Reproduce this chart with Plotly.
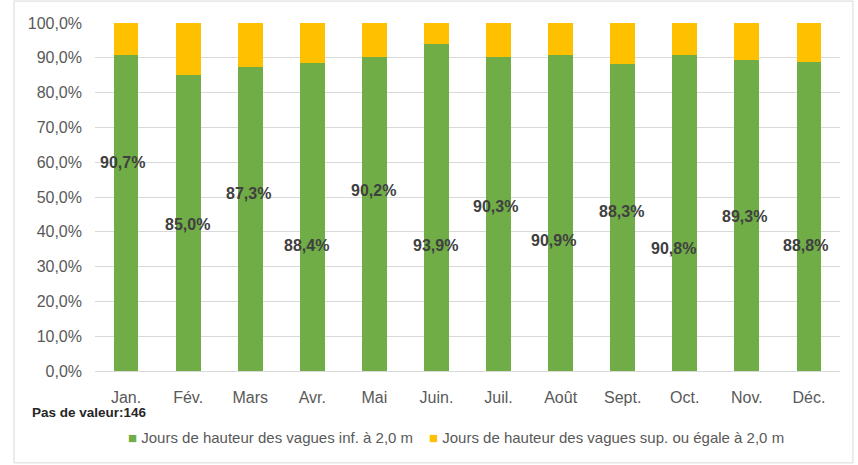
import plotly.graph_objects as go

months = ["Jan.", "Fév.", "Mars", "Avr.", "Mai", "Juin.", "Juil.", "Août", "Sept.", "Oct.", "Nov.", "Déc."]
inf_2m = [90.7, 85.0, 87.3, 88.4, 90.2, 93.9, 90.3, 90.9, 88.3, 90.8, 89.3, 88.8]
sup_2m = [round(100 - v, 1) for v in inf_2m]
y_ticks = [0, 10, 20, 30, 40, 50, 60, 70, 80, 90, 100]
y_tick_text = [f"{v:.1f}%".replace(".", ",") for v in y_ticks]
series_names = ["Jours de hauteur des vagues inf. à 2,0 m",
                "Jours de hauteur des vagues sup. ou égale à 2,0 m"]

# layout: where the data labels sit (as in the reference)
label_y = [59.8, 42.2, 50.9, 36.2, 52.0, 36.2, 47.4, 37.6, 45.7, 35.3, 44.3, 36.2]
label_dx = [-4, -1, -2, -6, -1, -1, -3, -7, -1, -11, -2, -3]

GREEN = "#70AD47"
YELLOW = "#FFC000"
FONT = "Liberation Sans, Arial, sans-serif"

fig = go.Figure()
fig.add_trace(go.Bar(x=months, y=inf_2m, name=series_names[0],
                     marker=dict(color=GREEN, line=dict(width=0)), hoverinfo="skip"))
fig.add_trace(go.Bar(x=months, y=sup_2m, name=series_names[1],
                     marker=dict(color=YELLOW, line=dict(width=0)), hoverinfo="skip"))

for m, v, ly, dx in zip(months, inf_2m, label_y, label_dx):
    fig.add_annotation(x=m, y=ly, xshift=dx, text=f"<b>{v:.1f}%</b>".replace(".", ","),
                       showarrow=False, font=dict(family=FONT, size=16, color="#404040"))

fig.add_annotation(xref="paper", yref="paper", x=-0.0866, y=-0.12, xanchor="left", yanchor="middle",
                   text="<b>Pas de valeur:146</b>", showarrow=False,
                   font=dict(family=FONT, size=13.5, color="#262626"))

# legend (drawn as text, matching the compact Excel legend)
fig.add_annotation(xref="paper", yref="paper", x=(126 - 95) / 745, y=(371 - 437) / 348,
                   xanchor="left", yanchor="middle", showarrow=False,
                   text=f"<span style='color:{GREEN}'>■</span> {series_names[0]}",
                   font=dict(family=FONT, size=15, color="#595959"))
fig.add_annotation(xref="paper", yref="paper", x=(427 - 95) / 745, y=(371 - 437) / 348,
                   xanchor="left", yanchor="middle", showarrow=False,
                   text=f"<span style='color:{YELLOW}'>■</span> {series_names[1]}",
                   font=dict(family=FONT, size=15, color="#595959"))

fig.add_shape(type="rect", xref="paper", yref="paper", x0=-0.1087, x1=1.0174, y0=-0.264, y1=1.063,
              line=dict(color="#D9D9D9", width=1), fillcolor="rgba(0,0,0,0)", layer="below")

fig.update_layout(
    width=858, height=465,
    margin=dict(l=95, r=18, t=23, b=94),
    barmode="stack", bargap=0.6,
    paper_bgcolor="white", plot_bgcolor="white",
    font=dict(family=FONT, size=16, color="#595959"),
    showlegend=False,
    xaxis=dict(showgrid=False, showline=True, linecolor="#D9D9D9", linewidth=1,
               ticks="", tickfont=dict(size=16, color="#595959"), ticklabelstandoff=12,
               fixedrange=True),
    yaxis=dict(range=[0, 100], tickvals=y_ticks, ticktext=y_tick_text,
               showgrid=True, gridcolor="#D9D9D9", gridwidth=1, zeroline=False,
               showline=False, ticks="", ticklabelstandoff=12,
               tickfont=dict(size=16, color="#595959"), fixedrange=True),
)

fig.write_html("out.html", config={"displayModeBar": False},
               post_script="document.body.style.margin='0';")
